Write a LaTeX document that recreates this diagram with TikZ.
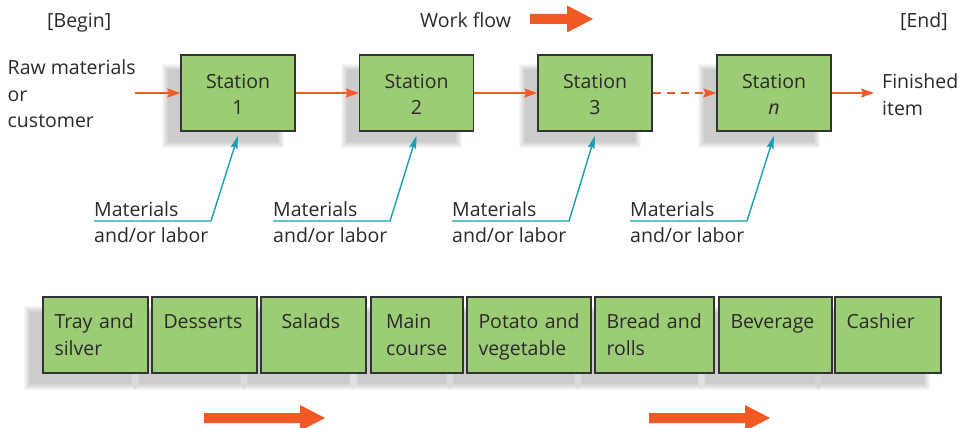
\documentclass[tikz,border=0pt]{standalone}
\usepackage{fontspec}
\setmainfont{Open Sans}
\usetikzlibrary{arrows.meta,backgrounds,calc}
\definecolor{orng}{HTML}{F15A24}
\definecolor{tealc}{HTML}{1A9DB5}
\definecolor{boxgreen}{HTML}{9CCD76}
\definecolor{txt}{HTML}{2A2A2A}
\definecolor{edge}{HTML}{333333}
\newcommand{\toprl}{\rule{0pt}{19pt}}
\newcommand{\botrl}{\vphantom{g}}
\newcommand{\strl}{\rule{0pt}{17.5pt}}
\begin{document}
\begin{tikzpicture}[x=1pt,y=-1pt,
  every node/.style={font=\fontsize{19.5}{26.5}\selectfont, text=txt},
  station/.style={draw=edge, line width=1.4pt, fill=boxgreen, minimum width=114pt, minimum height=76pt, align=center, inner sep=0pt, font=\fontsize{19.5}{26}\selectfont},
  dishbox/.style={draw=edge, line width=1.4pt, fill=boxgreen, minimum height=76pt, align=left, inner xsep=11.5pt, inner ysep=0pt},
  txtlabel/.style={anchor=north west, align=left, inner sep=0pt},
  oneline/.style={anchor=base west, inner sep=0pt},
  flow/.style={draw=orng, line width=1.4pt, -{Stealth[length=13pt,width=9pt,inset=2pt]}},
  feed/.style={draw=tealc, line width=1.4pt, -{Stealth[length=13pt,width=7pt,inset=2pt]}},
]
\useasboundingbox (0,0) rectangle (959,428);

% header
\node[oneline] (begin) at (47,28) {[Begin]};
\node[oneline] (wf) at (420,27.5) {Work flow};
\node[oneline] (end) at (900,28) {[End]};
\fill[orng] (530,14) -- (567,14) -- (567,5.5) -- (593,19) -- (567,32.5) -- (567,24) -- (530,24) -- cycle;

% stations
\node[station] (s1) at (238,93) {\strl Station\\1};
\node[station] (s2) at (416.5,93) {\strl Station\\2};
\node[station] (s3) at (595,93) {\strl Station\\3};
\node[station] (sn) at (774,93) {\strl Station\\\textit{n}};

\node[txtlabel] (raw) at (7.5,59.7) {Raw materials\\or\\customer};
\node[txtlabel] (fin) at (882,73.7) {Finished\\item};

\coordinate (inStart) at (135,93);
\coordinate (outEnd) at (874,93);
\draw[flow] (inStart) -- (s1.west);
\draw[flow] (s1.east) -- (s2.west);
\draw[flow] (s2.east) -- (s3.west);
\draw[flow, dash pattern=on 8pt off 6pt] (s3.east) -- (sn.west);
\draw[flow] (sn.east) -- (outEnd);

% materials
\node[txtlabel] (m1) at (94,201.2) {Materials\\and/or labor};
\node[txtlabel] (m2) at (273,201.2) {Materials\\and/or labor};
\node[txtlabel] (m3) at (452,201.2) {Materials\\and/or labor};
\node[txtlabel] (m4) at (630,201.2) {Materials\\and/or labor};
\coordinate (u1) at (94,221);
\coordinate (u2) at (273,221);
\coordinate (u3) at (452,221);
\coordinate (u4) at (630,221);
\draw[feed] (u1) -- ++(117,0) -- ([yshift=-4pt]s1.south);
\draw[feed] (u2) -- ++(117,0) -- ([yshift=-4pt]s2.south);
\draw[feed] (u3) -- ++(117,0) -- ([yshift=-4pt]s3.south);
\draw[feed] (u4) -- ++(117,0) -- ([yshift=-4pt]sn.south);

% cafeteria line
\node[dishbox, minimum width=105pt, text width=82pt] (b1) at (95.5,335) {\toprl\mbox{Tray and}\\silver\botrl};
\node[dishbox, minimum width=105pt, text width=82pt] (b2) at (204.5,335) {\toprl Desserts\\\mbox{}\botrl};
\node[dishbox, minimum width=105pt, text width=82pt] (b3) at (313.5,335) {\toprl\hspace*{9pt}Salads\\\mbox{}\botrl};
\node[dishbox, minimum width=92pt, text width=69pt] (b4) at (417,335) {\toprl\hspace*{3.5pt}Main\\\hspace*{3.5pt}course\botrl};
\node[dishbox, minimum width=124pt, text width=101pt] (b5) at (529,335) {\toprl\mbox{Potato and}\\vegetable\botrl};
\node[dishbox, minimum width=119pt, text width=96pt] (b6) at (654.5,335) {\toprl\mbox{Bread and}\\rolls\botrl};
\node[dishbox, minimum width=113pt, text width=90pt] (b7) at (775.5,335) {\toprl Beverage\\\mbox{}\botrl};
\node[dishbox, minimum width=106pt, text width=83pt] (b8) at (888,335) {\toprl Cashier\\\mbox{}\botrl};

\fill[orng] (204,413) -- (300,413) -- (300,405) -- (325,418) -- (300,431) -- (300,423) -- (204,423) -- cycle;
\fill[orng] (649,413) -- (745,413) -- (745,405) -- (770,418) -- (745,431) -- (745,423) -- (649,423) -- cycle;

% blurred shadows
\begin{scope}[on background layer]
\foreach \n in {s1,s2,s3,sn,b1,b2,b3,b4,b5,b6,b7,b8}{
  \foreach \k in {1,...,7}{
    \fill[black,opacity=0.03] ($(\n.south west)+(-19+\k,17-\k)$) rectangle ($(\n.north east)+(-11-\k,9+\k)$);
  }
}
\end{scope}
\end{tikzpicture}
\end{document}
